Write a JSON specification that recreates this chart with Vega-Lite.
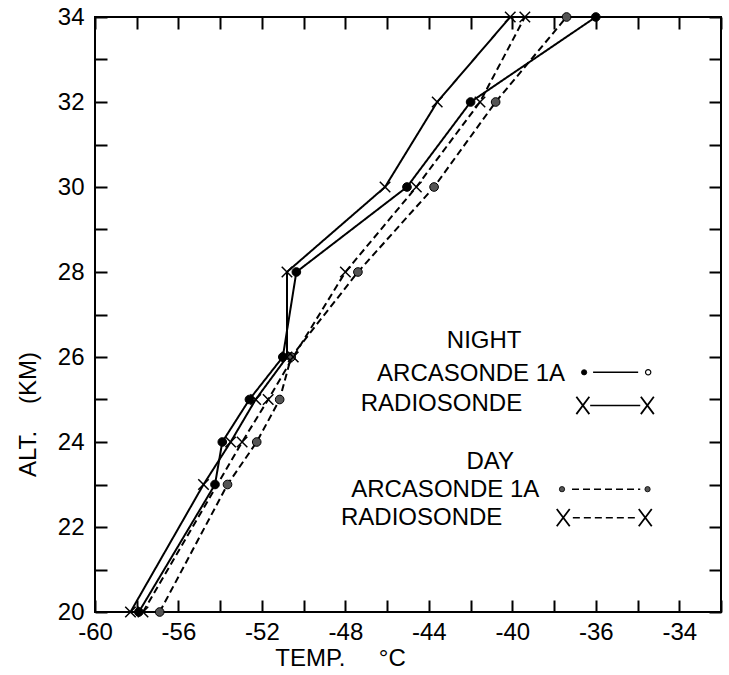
{
  "$schema": "https://vega.github.io/schema/vega-lite/v6.json",
  "width": 626,
  "height": 595,
  "autosize": {"type": "none"},
  "padding": {"left": 95, "top": 17, "right": 8, "bottom": 63},
  "background": "white",
  "config": {
    "view": {"stroke": "black", "strokeWidth": 2},
    "font": "Liberation Sans",
    "axis": {
      "grid": false,
      "domain": false,
      "labelFont": "Liberation Sans",
      "labelFontSize": 24,
      "labelColor": "black",
      "tickColor": "black",
      "tickWidth": 2,
      "tickSize": -12,
      "titleFont": "Liberation Sans",
      "titleFontSize": 24,
      "titleFontWeight": "normal",
      "titleColor": "black",
      "labelOverlap": false,
      "labelFlush": false
    }
  },
  "datasets": {
    "profiles": [
      {"series": "Night Arcasonde 1A", "alt": 20, "temp": -57.9},
      {"series": "Night Arcasonde 1A", "alt": 23, "temp": -54.25},
      {"series": "Night Arcasonde 1A", "alt": 24, "temp": -53.9},
      {"series": "Night Arcasonde 1A", "alt": 25, "temp": -52.6},
      {"series": "Night Arcasonde 1A", "alt": 26, "temp": -51.0},
      {"series": "Night Arcasonde 1A", "alt": 28, "temp": -50.35},
      {"series": "Night Arcasonde 1A", "alt": 30, "temp": -45.05},
      {"series": "Night Arcasonde 1A", "alt": 32, "temp": -42.0},
      {"series": "Night Arcasonde 1A", "alt": 34, "temp": -36.0},
      {"series": "Night Radiosonde", "alt": 20, "temp": -58.3},
      {"series": "Night Radiosonde", "alt": 23, "temp": -54.8},
      {"series": "Night Radiosonde", "alt": 24, "temp": -53.5},
      {"series": "Night Radiosonde", "alt": 25, "temp": -52.3},
      {"series": "Night Radiosonde", "alt": 26, "temp": -50.8},
      {"series": "Night Radiosonde", "alt": 28, "temp": -50.8},
      {"series": "Night Radiosonde", "alt": 30, "temp": -46.1},
      {"series": "Night Radiosonde", "alt": 32, "temp": -43.6},
      {"series": "Night Radiosonde", "alt": 34, "temp": -40.1},
      {"series": "Day Arcasonde 1A", "alt": 20, "temp": -56.9},
      {"series": "Day Arcasonde 1A", "alt": 23, "temp": -53.65},
      {"series": "Day Arcasonde 1A", "alt": 24, "temp": -52.25},
      {"series": "Day Arcasonde 1A", "alt": 25, "temp": -51.15},
      {"series": "Day Arcasonde 1A", "alt": 26, "temp": -50.6},
      {"series": "Day Arcasonde 1A", "alt": 28, "temp": -47.4},
      {"series": "Day Arcasonde 1A", "alt": 30, "temp": -43.75},
      {"series": "Day Arcasonde 1A", "alt": 32, "temp": -40.8},
      {"series": "Day Arcasonde 1A", "alt": 34, "temp": -37.4},
      {"series": "Day Radiosonde", "alt": 20, "temp": -57.7},
      {"series": "Day Radiosonde", "alt": 24, "temp": -52.95},
      {"series": "Day Radiosonde", "alt": 25, "temp": -51.7},
      {"series": "Day Radiosonde", "alt": 26, "temp": -50.5},
      {"series": "Day Radiosonde", "alt": 28, "temp": -48.0},
      {"series": "Day Radiosonde", "alt": 30, "temp": -44.6},
      {"series": "Day Radiosonde", "alt": 32, "temp": -41.55},
      {"series": "Day Radiosonde", "alt": 34, "temp": -39.4}
    ],
    "keysegs": [
      {"series": "Night Arcasonde 1A", "t1": -36.13, "t2": -33.97, "alt": 25.64},
      {"series": "Night Radiosonde", "t1": -36.27, "t2": -33.87, "alt": 24.86},
      {"series": "Day Arcasonde 1A", "t1": -37.14, "t2": -33.87, "alt": 22.89},
      {"series": "Day Radiosonde", "t1": -37.1, "t2": -34.0, "alt": 22.22}
    ],
    "keydots": [
      {"series": "Night Arcasonde 1A", "temp": -36.56, "alt": 25.64},
      {"series": "Day Arcasonde 1A", "temp": -37.62, "alt": 22.89},
      {"series": "Day Arcasonde 1A", "temp": -33.52, "alt": 22.89}
    ],
    "keyopen": [
      {"series": "Night Arcasonde 1A", "temp": -33.49, "alt": 25.64}
    ],
    "keyx": [
      {"series": "Night Radiosonde", "temp": -36.62, "alt": 24.86},
      {"series": "Night Radiosonde", "temp": -33.53, "alt": 24.86},
      {"series": "Day Radiosonde", "temp": -37.56, "alt": 22.22},
      {"series": "Day Radiosonde", "temp": -33.63, "alt": 22.22}
    ],
    "headers": [
      {"label": "NIGHT", "temp": -41.35, "alt": 26.37},
      {"label": "DAY", "temp": -41.06, "alt": 23.53}
    ],
    "keylabels": [
      {"label": "ARCASONDE 1A", "temp": -37.47, "alt": 25.6},
      {"label": "RADIOSONDE", "temp": -39.53, "alt": 24.9},
      {"label": "ARCASONDE 1A", "temp": -38.71, "alt": 22.86},
      {"label": "RADIOSONDE", "temp": -40.48, "alt": 22.22}
    ]
  },
  "layer": [
    {
      "data": {"name": "profiles"},
      "mark": {"type": "line", "strokeWidth": 2, "color": "black"},
      "encoding": {
        "x": {
          "field": "temp", "type": "quantitative",
          "scale": {"domain": [-60, -30], "nice": false, "zero": false},
          "axis": {
            "orient": "bottom",
            "values": [-60, -58, -56, -54, -52, -50, -48, -46, -44, -42, -40, -38, -36, -34, -32, -30],
            "labelExpr": "datum.value == -32 ? '-34' : (datum.value % 4 == 0 ? '-' + abs(datum.value) : '')",
            "labelPadding": 20,
            "title": "TEMP.\u00a0\u00a0\u00a0\u00a0\u00a0°C",
            "titleX": 245,
            "titleY": 46,
            "titleAlign": "center",
            "titleBaseline": "middle"
          }
        },
        "y": {
          "field": "alt", "type": "quantitative",
          "scale": {"domain": [20, 34], "nice": false, "zero": false},
          "axis": {
            "orient": "left",
            "values": [20, 21, 22, 23, 24, 25, 26, 27, 28, 29, 30, 31, 32, 33, 34],
            "labelExpr": "datum.value % 2 == 0 ? '' + datum.value : ''",
            "labelPadding": 23,
            "title": "ALT.\u00a0\u00a0\u00a0\u00a0(KM)",
            "titleX": -67,
            "titleY": 397,
            "titleAngle": 270,
            "titleAlign": "center",
            "titleBaseline": "middle"
          }
        },
        "detail": {"field": "series"},
        "strokeDash": {
          "field": "series", "type": "nominal",
          "scale": {"domain": ["Night Arcasonde 1A", "Night Radiosonde", "Day Arcasonde 1A", "Day Radiosonde"], "range": [[1, 0], [1, 0], [7, 4], [7, 4]]},
          "legend": null
        },
        "order": {"field": "alt", "type": "quantitative"}
      }
    },
    {
      "data": {"name": "profiles"},
      "transform": [{"filter": "indexof(datum.series, 'Arcasonde') >= 0"}],
      "mark": {"type": "point", "shape": "circle", "filled": true, "size": 75, "stroke": "black", "strokeWidth": 1, "opacity": 1},
      "encoding": {
        "x": {
          "field": "temp", "type": "quantitative",
          "scale": {"domain": [-60, -30], "nice": false, "zero": false},
          "axis": {"orient": "top", "labels": false, "title": null,
            "values": [-60, -58, -56, -54, -52, -50, -48, -46, -44, -42, -40, -38, -36, -34, -32, -30]}
        },
        "y": {
          "field": "alt", "type": "quantitative",
          "scale": {"domain": [20, 34], "nice": false, "zero": false},
          "axis": {"orient": "right", "labels": false, "title": null,
            "values": [20, 21, 22, 23, 24, 25, 26, 27, 28, 29, 30, 31, 32, 33, 34]}
        },
        "fill": {
          "field": "series", "type": "nominal",
          "scale": {"domain": ["Night Arcasonde 1A", "Day Arcasonde 1A"], "range": ["black", "#555555"]},
          "legend": null
        }
      }
    },
    {
      "data": {"name": "profiles"},
      "transform": [{"filter": "indexof(datum.series, 'Radiosonde') >= 0"}],
      "mark": {"type": "point", "shape": "M-1,-1L1,1M-1,1L1,-1", "filled": false, "size": 110, "stroke": "black", "strokeWidth": 1.5, "opacity": 1},
      "encoding": {
        "x": {"field": "temp", "type": "quantitative", "axis": null},
        "y": {"field": "alt", "type": "quantitative", "axis": null}
      }
    },
    {
      "data": {"name": "keysegs"},
      "mark": {"type": "rule", "strokeWidth": 1.5, "color": "black"},
      "encoding": {
        "x": {"field": "t1", "type": "quantitative", "axis": null},
        "x2": {"field": "t2"},
        "y": {"field": "alt", "type": "quantitative", "axis": null},
        "strokeDash": {"field": "series", "type": "nominal", "legend": null}
      }
    },
    {
      "data": {"name": "keydots"},
      "mark": {"type": "point", "shape": "circle", "filled": true, "size": 28, "stroke": "black", "strokeWidth": 0.8, "opacity": 1},
      "encoding": {
        "x": {"field": "temp", "type": "quantitative", "axis": null},
        "y": {"field": "alt", "type": "quantitative", "axis": null},
        "fill": {"field": "series", "type": "nominal", "legend": null}
      }
    },
    {
      "data": {"name": "keyopen"},
      "mark": {"type": "point", "shape": "circle", "filled": false, "size": 28, "stroke": "black", "fill": "white", "strokeWidth": 1.2, "opacity": 1},
      "encoding": {
        "x": {"field": "temp", "type": "quantitative", "axis": null},
        "y": {"field": "alt", "type": "quantitative", "axis": null}
      }
    },
    {
      "data": {"name": "keyx"},
      "mark": {"type": "point", "shape": "M-0.75,-1L0.75,1M-0.75,1L0.75,-1", "filled": false, "size": 300, "stroke": "black", "strokeWidth": 1.8, "opacity": 1},
      "encoding": {
        "x": {"field": "temp", "type": "quantitative", "axis": null},
        "y": {"field": "alt", "type": "quantitative", "axis": null}
      }
    },
    {
      "data": {"name": "headers"},
      "mark": {"type": "text", "align": "center", "baseline": "middle", "font": "Liberation Sans", "fontSize": 24, "color": "black"},
      "encoding": {
        "x": {"field": "temp", "type": "quantitative", "axis": null},
        "y": {"field": "alt", "type": "quantitative", "axis": null},
        "text": {"field": "label"}
      }
    },
    {
      "data": {"name": "keylabels"},
      "mark": {"type": "text", "align": "right", "baseline": "middle", "font": "Liberation Sans", "fontSize": 24, "color": "black"},
      "encoding": {
        "x": {"field": "temp", "type": "quantitative", "axis": null},
        "y": {"field": "alt", "type": "quantitative", "axis": null},
        "text": {"field": "label"}
      }
    }
  ],
  "resolve": {"axis": {"x": "independent", "y": "independent"}}
}
